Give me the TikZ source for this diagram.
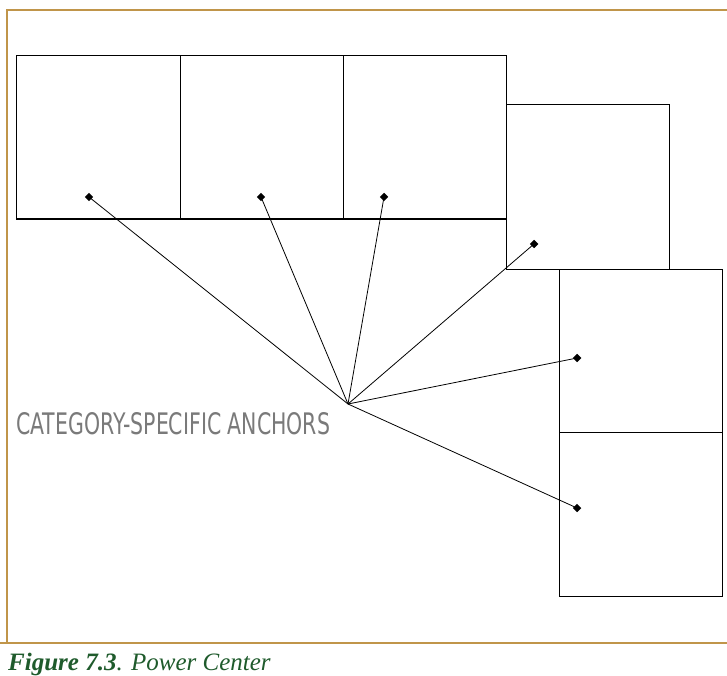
\documentclass[tikz,border=0pt]{standalone}
\usepackage{fontspec}
\setmainfont{Liberation Serif}
\newfontfamily\labelfont{DejaVu Sans}
\definecolor{gold}{HTML}{C0954A}
\definecolor{capgreen}{HTML}{1F5B2C}
\definecolor{labelgray}{HTML}{7A7A7A}
\begin{document}
\begin{tikzpicture}[x=1pt,y=-1pt,
  cell/.style={draw=black,line width=1pt},
  ray/.style={draw=black,line width=0.8pt},
  tip/.style={fill=black,inner sep=0pt,minimum size=6pt,rotate=45,draw=none},
  frameline/.style={draw=gold,line width=2pt}]
\useasboundingbox (0,0) rectangle (727,676);
\fill[white] (0,0) rectangle (727,676);
% frame
\draw[frameline] (7,643) -- (7,10) -- (727,10);
\draw[frameline] (0,643) -- (727,643);
% cells
\draw[cell] (16,56) rectangle (180,219);
\draw[cell] (180,56) rectangle (343,219);
\draw[cell] (343,56) rectangle (506,219);
\draw[cell] (506,105) rectangle (669,269);
\draw[cell] (559,269) rectangle (722,432);
\draw[cell] (559,432) rectangle (722,596);
% hub and anchors
\coordinate (hub) at (348,404);
\node[tip] (a1) at (89,197) {};
\node[tip] (a2) at (261,197) {};
\node[tip] (a3) at (384,197) {};
\node[tip] (a4) at (534,244) {};
\node[tip] (a5) at (577,358) {};
\node[tip] (a6) at (577,508) {};
\foreach \a in {a1,a2,a3,a4,a5,a6} \draw[ray] (hub) -- (\a.center);
% label
\node[anchor=west,inner sep=0pt,text=labelgray,font=\labelfont\fontsize{16}{18}\selectfont] (lbl) at (16,424) {\resizebox{314pt}{22pt}{CATEGORY-SPECIFIC ANCHORS}};
% caption
\node[anchor=west,inner sep=0pt,text=capgreen,font=\fontsize{25}{27}\selectfont\itshape] (cap) at (8,664) {\textbf{Figure 7.3}. Power Center};
\end{tikzpicture}
\end{document}
